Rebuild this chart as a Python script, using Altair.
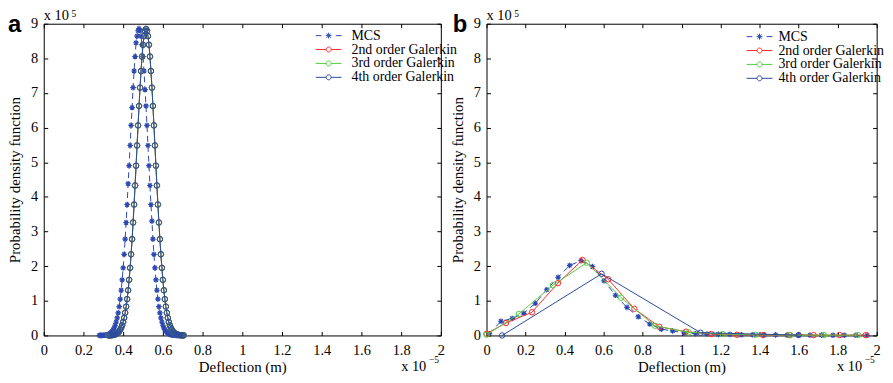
import altair as alt
import pandas as pd

SERIES = ["MCS", "2nd order Galerkin", "3rd order Galerkin", "4th order Galerkin"]
COLORS = ["#2c48b0", "#ff2b2b", "#55cc44", "#2d4a9c"]

x_ticks = [0, 0.2, 0.4, 0.6, 0.8, 1.0, 1.2, 1.4, 1.6, 1.8, 2.0]
y_ticks = [0, 1, 2, 3, 4, 5, 6, 7, 8, 9]

# ---------------- panel a (deflection x1e-5, pdf x1e5) ----------------
mcs_a_x = [0.280, 0.285, 0.290, 0.295, 0.300, 0.305, 0.310, 0.315, 0.320, 0.325,
           0.330, 0.335, 0.340, 0.345, 0.350, 0.355, 0.360, 0.365, 0.370, 0.375,
           0.380, 0.385, 0.390, 0.395, 0.400, 0.405, 0.410, 0.415, 0.420, 0.425,
           0.430, 0.435, 0.440, 0.445, 0.450, 0.455, 0.460, 0.465, 0.470, 0.475,
           0.480, 0.485, 0.490, 0.495, 0.500, 0.505, 0.510, 0.515, 0.520, 0.525,
           0.530, 0.535, 0.540, 0.545, 0.550, 0.555, 0.560, 0.565, 0.570, 0.575,
           0.580, 0.585, 0.590, 0.595, 0.600, 0.605, 0.610, 0.615, 0.620, 0.625,
           0.630, 0.635, 0.640, 0.645, 0.650, 0.655, 0.660, 0.665, 0.670, 0.675,
           0.680]
mcs_a_pdf = [0.001, 0.001, 0.002, 0.003, 0.004, 0.006, 0.010, 0.014, 0.021, 0.030,
             0.043, 0.062, 0.086, 0.119, 0.163, 0.221, 0.295, 0.389, 0.507, 0.654,
             0.833, 1.049, 1.305, 1.605, 1.951, 2.343, 2.780, 3.261, 3.780, 4.380,
             4.902, 5.485, 6.064, 6.580, 7.155, 7.635, 8.052, 8.450, 8.643, 8.798,
             8.860, 8.798, 8.643, 8.392, 8.052, 7.635, 7.100, 6.626, 6.064, 5.485,
             4.902, 4.330, 3.780, 3.300, 2.780, 2.343, 1.951, 1.605, 1.305, 1.049,
             0.833, 0.654, 0.507, 0.389, 0.295, 0.221, 0.163, 0.119, 0.086, 0.062,
             0.043, 0.030, 0.021, 0.014, 0.010, 0.006, 0.004, 0.003, 0.002, 0.001,
             0.001]
gal_a_x = [0.325, 0.330, 0.335, 0.340, 0.345, 0.350, 0.355, 0.360, 0.365, 0.370,
           0.375, 0.380, 0.385, 0.390, 0.395, 0.400, 0.405, 0.410, 0.415, 0.420,
           0.425, 0.430, 0.435, 0.440, 0.445, 0.450, 0.455, 0.460, 0.465, 0.470,
           0.475, 0.480, 0.485, 0.490, 0.495, 0.500, 0.505, 0.510, 0.515, 0.520,
           0.525, 0.530, 0.535, 0.540, 0.545, 0.550, 0.555, 0.560, 0.565, 0.570,
           0.575, 0.580, 0.585, 0.590, 0.595, 0.600, 0.605, 0.610, 0.615, 0.620,
           0.625, 0.630, 0.635, 0.640, 0.645, 0.650, 0.655, 0.660, 0.665, 0.670,
           0.675, 0.680, 0.685, 0.690, 0.695, 0.700, 0.705]
# the three Galerkin orders coincide in panel a
gal_a_pdf = [0.002, 0.003, 0.004, 0.006, 0.010, 0.014, 0.021, 0.030, 0.043, 0.062,
             0.086, 0.119, 0.163, 0.221, 0.295, 0.389, 0.507, 0.654, 0.833, 1.049,
             1.305, 1.605, 1.951, 2.343, 2.780, 3.261, 3.780, 4.330, 4.902, 5.485,
             6.064, 6.626, 7.155, 7.635, 8.052, 8.392, 8.643, 8.798, 8.850, 8.798,
             8.643, 8.392, 8.052, 7.635, 7.155, 6.626, 6.064, 5.485, 4.902, 4.330,
             3.780, 3.261, 2.780, 2.343, 1.951, 1.605, 1.305, 1.049, 0.833, 0.654,
             0.507, 0.389, 0.295, 0.221, 0.163, 0.119, 0.086, 0.062, 0.043, 0.030,
             0.021, 0.014, 0.010, 0.006, 0.004, 0.003, 0.002]

# ---------------- panel b ----------------
mcs_b_x = [0.015, 0.074, 0.132, 0.191, 0.250, 0.309, 0.367, 0.426, 0.485, 0.543,
           0.602, 0.661, 0.720, 0.778, 0.837, 0.896, 0.954, 1.013, 1.072, 1.130,
           1.189, 1.248, 1.306, 1.365, 1.424, 1.482, 1.541, 1.600, 1.658, 1.717,
           1.776, 1.834, 1.893, 1.952]
mcs_b_pdf = [0.05, 0.41, 0.49, 0.64, 0.93, 1.32, 1.68, 2.02, 2.16, 1.99,
             1.58, 1.16, 0.81, 0.54, 0.33, 0.18, 0.13, 0.07, 0.05, 0.04,
             0.03, 0.03, 0.02, 0.02, 0.02, 0.015, 0.01, 0.012, 0.01, 0.008,
             0.006, 0.006, 0.005, 0.004]
gal2_b_x = [0.0, 0.100, 0.233, 0.366, 0.492, 0.624, 0.758, 0.886, 1.022, 1.152,
            1.284, 1.418, 1.553, 1.677, 1.810, 1.944]
gal2_b_pdf = [0.05, 0.36, 0.67, 1.51, 2.18, 1.62, 0.77, 0.25, 0.11, 0.04,
              0.02, 0.01, 0.01, 0.01, 0.01, 0.01]
gal3_b_x = [0.0, 0.166, 0.340, 0.514, 0.690, 0.863, 1.037, 1.211, 1.380, 1.558,
            1.730, 1.905]
gal3_b_pdf = [0.02, 0.62, 1.45, 2.10, 1.09, 0.28, 0.09, 0.04, 0.02, 0.01,
              0.01, 0.01]
gal4_b_x = [0.08, 0.59, 1.097, 1.60]
gal4_b_pdf = [0.0, 1.78, 0.08, 0.01]

# ---------------- styling ----------------
STAR = "M0,-1V1M-1,0H1M-0.7,-0.7L0.7,0.7M-0.7,0.7L0.7,-0.7"
LEG_MCS = ("M-2,0H-1.1M1.1,0H2M0,-0.46V0.46M-0.46,0H0.46"
           "M-0.33,-0.33L0.33,0.33M-0.33,0.33L0.33,-0.33")
LEG_CIRC = ("M-2,0H-0.385M0.385,0H2M0.385,0A0.385,0.385 0 1,1 -0.385,0"
            "A0.385,0.385 0 1,1 0.385,0")
LEG_PATHS = [LEG_MCS, LEG_CIRC, LEG_CIRC, LEG_CIRC]
SERIF = "Liberation Serif, Times New Roman, serif"
SANS = "Liberation Sans, Arial, sans-serif"
PLOT_H = 314


def frame(series, xs, ys):
    return pd.DataFrame({"series": series, "x": xs, "y": ys})


def txt(text, dx, dy, size, weight="normal", font=SERIF):
    return alt.Chart(pd.DataFrame({"t": [text]})).mark_text(
        align="left", baseline="alphabetic", fontSize=size, font=font,
        fontWeight=weight, color="black"
    ).encode(x=alt.value(dx), y=alt.value(dy), text="t:N")


def make_panel(df, width, letter, letter_dx, lx, ly, loff, rowpad):
    xs = alt.Scale(domain=[0, 2], nice=False, zero=False)
    ys = alt.Scale(domain=[0, 9], nice=False)
    ax_x = alt.Axis(orient="bottom", values=x_ticks, format=".1~f",
                    title="Deflection (m)", labelFlush=False, labelOverlap=False,
                    offset=-4, labelPadding=8, titlePadding=3)
    ax_y = alt.Axis(orient="left", values=y_ticks, format="d",
                    title="Probability density function", offset=-4,
                    labelPadding=6, titlePadding=8)
    ax_xt = alt.Axis(orient="top", values=x_ticks, labels=False, title=None, offset=-4)
    ax_yr = alt.Axis(orient="right", values=y_ticks, labels=False, title=None, offset=-4)

    base = alt.Chart(df)

    def sel(s):
        return base.transform_filter(alt.datum.series == s)

    X0 = alt.X("x:Q", scale=xs, axis=None)
    Y0 = alt.Y("y:Q", scale=ys, axis=None)

    layers = [
        sel("MCS").mark_line(strokeDash=[6, 4], strokeWidth=1, color=COLORS[0]).encode(
            x=alt.X("x:Q", scale=xs, axis=ax_x), y=alt.Y("y:Q", scale=ys, axis=ax_y)),
        sel("MCS").mark_point(shape=STAR, size=32, filled=False, strokeWidth=1.2,
                              color=COLORS[0], opacity=1).encode(
            x=alt.X("x:Q", scale=xs, axis=ax_xt), y=alt.Y("y:Q", scale=ys, axis=ax_yr)),
    ]
    for s, c in zip(SERIES[1:], COLORS[1:]):
        layers.append(sel(s).mark_line(strokeWidth=1, color=c).encode(x=X0, y=Y0))
        layers.append(sel(s).mark_point(shape="circle", size=30, filled=False,
                                        strokeWidth=1, color=c, opacity=1).encode(x=X0, y=Y0))
    leg = alt.Legend(orient="none", legendX=lx, legendY=ly, title=None,
                     symbolSize=169, labelOffset=loff, rowPadding=rowpad,
                     padding=0, labelFont=SERIF, labelFontSize=14,
                     labelColor="black", symbolStrokeWidth=1)
    layers.append(base.mark_point(opacity=0, size=169, filled=False).encode(
        x=X0, y=Y0,
        color=alt.Color("series:N", scale=alt.Scale(domain=SERIES, range=COLORS), legend=leg),
        shape=alt.Shape("series:N", scale=alt.Scale(domain=SERIES, range=LEG_PATHS), legend=leg),
    ))
    layers += [
        txt(letter, letter_dx, 8, 24, weight="bold", font=SANS),
        txt("x 10", 0, -3.5, 14.5),
        txt("5", 28, -6.5, 9.5),
        txt("x 10", width - 40, PLOT_H + 36, 14.5),
        txt("\u22125", width - 12, PLOT_H + 28, 9.5),
    ]
    return alt.layer(*layers).resolve_axis(x="independent", y="independent").properties(
        width=width, height=PLOT_H)


df_a = pd.concat([
    frame("MCS", mcs_a_x, mcs_a_pdf),
    frame("2nd order Galerkin", gal_a_x, gal_a_pdf),
    frame("3rd order Galerkin", gal_a_x, gal_a_pdf),
    frame("4th order Galerkin", gal_a_x, gal_a_pdf),
], ignore_index=True)
df_b = pd.concat([
    frame("MCS", mcs_b_x, mcs_b_pdf),
    frame("2nd order Galerkin", gal2_b_x, gal2_b_pdf),
    frame("3rd order Galerkin", gal3_b_x, gal3_b_pdf),
    frame("4th order Galerkin", gal4_b_x, gal4_b_pdf),
], ignore_index=True)

panel_a = make_panel(df_a, 400, "a", -36, 280, 5, 16, 0)
panel_b = make_panel(df_b, 393, "b", -34, 268, 6, 12, 0)

chart = alt.hconcat(panel_a, panel_b, spacing=46, bounds="flush").resolve_scale(
    color="independent", shape="independent"
).properties(
    padding={"left": -1, "top": -1.5, "right": -0.6, "bottom": -1}
).configure_view(
    stroke="black", strokeWidth=1
).configure_axis(
    domain=False, grid=False, tickSize=4, tickColor="black", tickWidth=1,
    labelFont=SERIF, labelFontSize=14.5, labelColor="black",
    titleFont=SERIF, titleFontSize=15, titleFontWeight="normal", titleColor="black"
)

chart.save("out.html", embed_options={"renderer": "svg", "actions": False})
